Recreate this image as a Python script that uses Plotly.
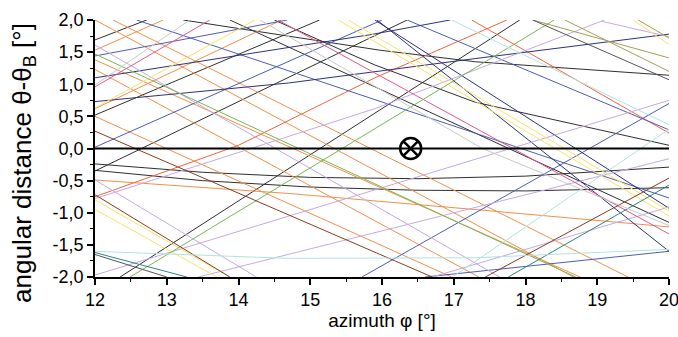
import plotly.graph_objects as go

# ---- data ----
line_x = [
    [12, 13.5, 15, 16.5, 18, 20],          # K1 black curve
    [12, 13.5, 15, 16.5, 18, 20],          # K2 black curve
    [13.23, 15.97, 17.3, 20],              # K3
    [13.88, 20],                           # K4
    [12, 15.13],                           # K5
    [12, 16.35],                           # K6
    [12, 12.72],                           # K7
    [12.35, 17.92],                        # K8
    [14.5, 15.9, 17.3, 20],                # K9
    [12, 18.67],                           # O1
    [12, 12.95],                           # O2
    [12, 14.6],                            # O3
    [12, 14.7, 17.4, 20],                  # O4
    [12, 14.0, 15.9, 17.74],               # O5
    [17.25, 20],                           # O6
    [12, 17.35],                           # O7
    [12, 18.76],                           # O8
    [12.25, 19.43],                        # O9
    [12, 16.97],                           # O11
    [12.58, 20],                           # B1
    [12, 16.0],                            # B2
    [15.72, 20],                           # B3
    [16.35, 20],                           # B4
    [12, 14.68],                           # B5
    [16.6, 20],                            # B6
    [12, 14.7, 17.3, 20],                  # N1
    [12, 15.83, 16.95],                    # N2
    [15.9, 20],                            # N3
    [15.93, 20],                           # N4
    [12, 17.64],                           # L1
    [12, 14.3, 15.9, 19.1],                # L2
    [12, 14.25],                           # L3
    [12, 20],                              # L4
    [16.7, 20],                            # L5
    [13.44, 17.44, 20],                    # L6
    [19.06, 20],                           # L9
    [12, 13.6],                            # P1
    [14.55, 20],                           # P2
    [12, 14.23],                           # Y1
    [15.39, 20],                           # Y2
    [15.53, 20],                           # Y3
    [12, 13.88],                           # Y4
    [12, 13.7],                            # Y5
    [19.5, 20],                            # Y6
    [12, 18.7],                            # G1
    [12.49, 18.4],                         # G2
    [12, 16.7],                            # Br1
    [12, 13.88],                           # Br2
    [17.44, 20],                           # Br3
    [12, 13.28],                           # T1
    [17.76, 20],                           # T2
    [12, 13.0],                            # dark grey
    [12, 14.7, 17.3, 20],                  # C1
    [16.98, 20],                           # C2
    [16.97, 20],                           # C3
    [12, 13.32],                           # Gr1
    [14.3, 17.4, 20],                      # Gr2
    [18.1, 20],                            # Ol1
    [18.55, 20],                           # Ol2
    [19.57, 20],                           # Ol3
    [18.1, 20],                            # dark grey 2
]
line_y = [
    [-0.24, -0.37, -0.45, -0.47, -0.43, -0.29],
    [-0.34, -0.50, -0.60, -0.65, -0.66, -0.61],
    [2.0, 1.53, 1.35, 1.14],
    [2.0, -1.15],
    [0.52, 2.0],
    [-0.35, 2.0],
    [1.69, 2.0],
    [-2.0, 2.0],
    [2.0, 1.3, 0.72, 0.05],
    [2.0, -2.0],
    [1.53, 2.0],
    [0.62, 2.0],
    [-0.49, -0.70, -0.96, -1.22],
    [-0.75, 0.05, 1.1, 2.0],
    [2.0, 0.24],
    [1.23, -2.0],
    [1.38, -2.0],
    [2.0, -2.0],
    [0.5, -2.0],
    [2.0, -0.77],
    [0.02, 2.0],
    [-2.0, 0.7],
    [2.0, 0.29],
    [1.44, 2.0],
    [-2.0, -1.6],
    [0.73, 1.02, 1.40, 1.78],
    [1.1, 1.77, 2.0],
    [2.0, -0.93],
    [2.0, -1.6],
    [1.61, -2.0],
    [-0.78, 0.05, 0.62, 2.0],
    [-0.49, -2.0],
    [-1.97, 0.75],
    [-2.0, -0.91],
    [-2.0, -0.88, -0.16],
    [1.98, 1.74],
    [0.96, 2.0],
    [2.0, -1.33],
    [0.63, 2.0],
    [2.0, -1.05],
    [2.0, -0.97],
    [-0.8, -2.0],
    [-0.95, -2.0],
    [2.0, 1.62],
    [1.47, -2.0],
    [-2.0, 2.0],
    [0.27, -2.0],
    [-0.72, -2.0],
    [-2.0, -0.46],
    [-1.62, -2.0],
    [-2.0, -0.57],
    [-1.65, -2.0],
    [-1.60, -1.71, -1.70, -1.57],
    [-2.0, 0.3],
    [2.0, 0.37],
    [0.99, 2.0],
    [2.0, 0.0, -1.2],
    [2.0, 1.41],
    [2.0, 1.2],
    [2.0, 1.72],
    [2.0, 1.07],
]
BK, OR, RO, BL, NV, LV, PK, YL, GN, BR, TL, LC, GR, OL, DG = (
    "#2f2f2f", "#f2904a", "#f0643c", "#4b5db4", "#2c317c", "#c5a9e2", "#e2588e",
    "#f8e26a", "#7bb552", "#8a3c1e", "#2b8585", "#b2e2e2", "#c9c9c9", "#a59d55", "#555555")
line_colors = [BK, BK, BK, BK, BK, BK, BK, BK, BK,
               OR, OR, OR, OR, RO, RO, OR, OR, OR, OR,
               BL, BL, BL, BL, BL, BL, NV, NV, NV, NV,
               LV, LV, LV, LV, LV, LV, LV,
               PK, PK, YL, YL, YL, YL, YL, YL,
               GN, GN, BR, BR, BR, TL, TL, DG,
               LC, LC, LC, GR, GR, OL, OL, OL, DG]

marker_x = [16.4]
marker_y = [0.0]

y_ticks = [-2.0, -1.5, -1.0, -0.5, 0.0, 0.5, 1.0, 1.5, 2.0]
y_ticklabels = ["-2,0", "-1,5", "-1,0", "-0,5", "0,0", "0,5", "1,0", "1,5", "2,0"]
x_ticks = [12, 13, 14, 15, 16, 17, 18, 19, 20]
x_ticklabels = ["12", "13", "14", "15", "16", "17", "18", "19", "20"]

fig = go.Figure()
for xs, ys, c in zip(line_x, line_y, line_colors):
    fig.add_trace(go.Scatter(x=xs, y=ys, mode="lines", line=dict(color=c, width=1),
                             showlegend=False, hoverinfo="skip"))

fig.add_trace(go.Scatter(x=[12, 20], y=[0, 0], mode="lines",
                         line=dict(color="black", width=2.2), showlegend=False))
fig.add_trace(go.Scatter(x=marker_x, y=marker_y, mode="markers",
                         marker=dict(symbol="circle-x-open", size=21, color="black",
                                     line=dict(width=2.5, color="black")),
                         showlegend=False))

font = "Liberation Sans, Arial, sans-serif"
fig.add_annotation(text="angular distance θ-θ<sub>B</sub> [°]", textangle=-90,
                   xref="paper", yref="paper", x=-0.125, y=0.445,
                   xanchor="center", yanchor="middle", showarrow=False,
                   font=dict(size=26, family=font, color="black"))
fig.update_layout(
    width=678, height=337,
    margin=dict(l=95, r=9, t=20, b=60, autoexpand=False),
    plot_bgcolor="white", paper_bgcolor="white",
    font=dict(family=font, color="black"),
    xaxis=dict(range=[12, 20], tickvals=x_ticks, ticktext=x_ticklabels,
               showgrid=False, zeroline=False, showline=True, linecolor="black", linewidth=1.5,
               ticks="outside", ticklen=6, tickwidth=1.5, tickcolor="black",
               ticklabeloverflow="allow", automargin=False,
               tickfont=dict(size=18, family=font),
               minor=dict(dtick=0.5, ticks="outside", ticklen=3, tickcolor="black", tickwidth=1),
               title=dict(text="azimuth φ [°]", font=dict(size=19, family=font), standoff=3)),
    yaxis=dict(range=[-2, 2], tickvals=y_ticks, ticktext=y_ticklabels,
               showgrid=False, zeroline=False, showline=True, linecolor="black", linewidth=1.5,
               ticks="outside", ticklen=6, tickwidth=1.5, tickcolor="black",
               ticklabeloverflow="allow", automargin=False,
               tickfont=dict(size=18, family=font),
               minor=dict(dtick=0.25, ticks="outside", ticklen=3, tickcolor="black", tickwidth=1)),
)
fig.write_html("out.html", config={"displayModeBar": False},
               post_script="document.body.style.margin='0';document.body.style.overflow='hidden';")
